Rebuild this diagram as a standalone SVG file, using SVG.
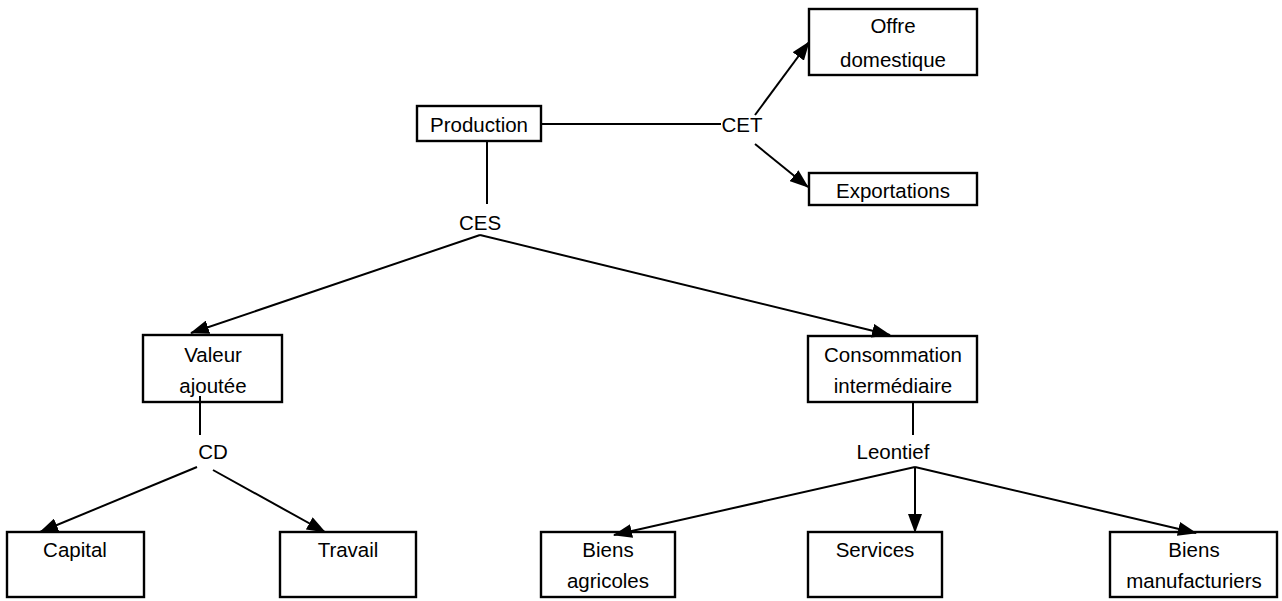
<svg xmlns="http://www.w3.org/2000/svg" width="1282" height="601" viewBox="0 0 1282 601">
<style>
.box{fill:#fff;stroke:#000;stroke-width:2.4}
text{font-family:"Liberation Sans",Arial,sans-serif;font-size:20.5px;fill:#000;text-anchor:middle}
.ln{stroke:#000;stroke-width:2;fill:none}
.ar{marker-end:url(#ah)}
</style>
<defs>
<marker id="ah" markerWidth="19" markerHeight="14" refX="18" refY="7" orient="auto" markerUnits="userSpaceOnUse">
<path d="M0,0 L19,7 L0,14 Z" fill="#000"/>
</marker>
</defs>
<rect width="1282" height="601" fill="#fff"/>
<g id="production"><rect class="box" x="417" y="106" width="124" height="35"/><text x="479" y="132">Production</text></g>
<g id="cet"><text x="742" y="132">CET</text></g>
<g id="ces"><text x="480" y="230">CES</text></g>
<g id="offre"><rect class="box" x="809" y="9" width="168" height="66"/><text x="893" y="33">Offre</text><text x="893" y="67">domestique</text></g>
<g id="exportations"><rect class="box" x="809" y="173" width="168" height="32"/><text x="893" y="198">Exportations</text></g>
<g id="valeur"><rect class="box" x="143" y="335" width="139" height="67"/><text x="213" y="362">Valeur</text><text x="213" y="393">ajoutée</text></g>
<g id="consommation"><rect class="box" x="808" y="336" width="169" height="66"/><text x="893" y="362">Consommation</text><text x="893" y="393">intermédiaire</text></g>
<g id="cd"><text x="213" y="459">CD</text></g>
<g id="leontief"><text x="893" y="459">Leontief</text></g>
<g id="capital"><rect class="box" x="7" y="532" width="137" height="65"/><text x="75" y="557">Capital</text></g>
<g id="travail"><rect class="box" x="280" y="532" width="136" height="65"/><text x="348" y="557">Travail</text></g>
<g id="agricoles"><rect class="box" x="541" y="532" width="134" height="65"/><text x="608" y="557">Biens</text><text x="608" y="588">agricoles</text></g>
<g id="services"><rect class="box" x="808" y="532" width="134" height="65"/><text x="875" y="557">Services</text></g>
<g id="manufacturiers"><rect class="box" x="1110" y="532" width="167" height="65"/><text x="1194" y="557">Biens</text><text x="1194" y="588">manufacturiers</text></g>
<g id="connectors">
<line class="ln" x1="542" y1="124" x2="721" y2="124"/>
<line class="ln" x1="487" y1="142" x2="487" y2="204"/>
<line class="ln ar" x1="755" y1="115" x2="809" y2="42"/>
<line class="ln ar" x1="755" y1="144" x2="808" y2="187"/>
<line class="ln ar" x1="480" y1="235" x2="191" y2="333"/>
<line class="ln ar" x1="480" y1="235" x2="890" y2="335"/>
<line class="ln" x1="200" y1="396" x2="200" y2="435"/>
<line class="ln" x1="913" y1="403" x2="913" y2="435"/>
<line class="ln ar" x1="197" y1="467" x2="40" y2="532"/>
<line class="ln ar" x1="213" y1="470" x2="325" y2="532"/>
<line class="ln ar" x1="915" y1="467" x2="614" y2="535"/>
<line class="ln ar" x1="915" y1="467" x2="915" y2="532"/>
<line class="ln ar" x1="915" y1="467" x2="1196" y2="533"/>
</g>
</svg>
